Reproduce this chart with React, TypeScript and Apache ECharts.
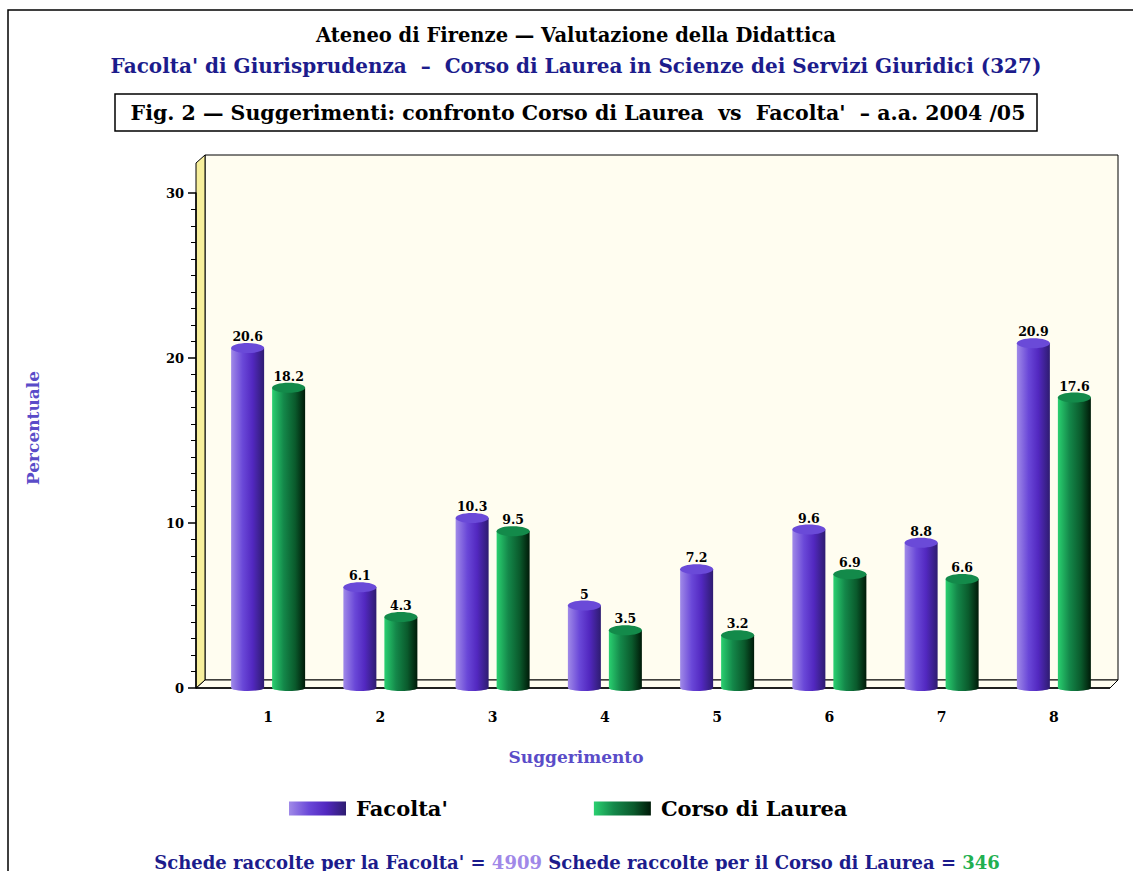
import React, { useEffect, useRef } from "react";
import * as echarts from "echarts";

const categories = ["1", "2", "3", "4", "5", "6", "7", "8"];
const facoltaValues = [20.6, 6.1, 10.3, 5, 7.2, 9.6, 8.8, 20.9];
const corsoValues = [18.2, 4.3, 9.5, 3.5, 3.2, 6.9, 6.6, 17.6];
const seriesNames = ["Facolta'", "Corso di Laurea"];
const yMin = 0;
const yMax = 30;
const yInterval = 10;
const schedeFacolta = 4909;
const schedeCorso = 346;

const FONT = "'DejaVu Serif', serif";

const purpleGrad = {
  type: "linear", x: 0, y: 0, x2: 1, y2: 0,
  colorStops: [
    { offset: 0, color: "#a08ae8" },
    { offset: 0.35, color: "#6a48d8" },
    { offset: 0.65, color: "#5228c0" },
    { offset: 1, color: "#2e1c70" },
  ],
};
const greenGrad = {
  type: "linear", x: 0, y: 0, x2: 1, y2: 0,
  colorStops: [
    { offset: 0, color: "#2ad070" },
    { offset: 0.35, color: "#14884a" },
    { offset: 0.7, color: "#0a5a2c" },
    { offset: 1, color: "#001a08" },
  ],
};

function makeRender(offset: number, grad: any, topColor: string) {
  return (params: any, api: any) => {
    const i = api.value(0);
    const v = api.value(1);
    const top = api.coord([i, v]);
    const base = api.coord([i, 0]);
    const w = 33;
    const ry = 5;
    const cx = top[0] + offset;
    return {
      type: "group",
      children: [
        { type: "ellipse", shape: { cx, cy: base[1], rx: w / 2, ry: 3 }, style: { fill: grad } },
        { type: "rect", shape: { x: cx - w / 2, y: top[1], width: w, height: base[1] - top[1] }, style: { fill: grad } },
        { type: "ellipse", shape: { cx, cy: top[1], rx: w / 2, ry }, style: { fill: topColor } },
        {
          type: "text",
          style: {
            text: String(v), x: cx, y: top[1] - ry,
            align: "center", verticalAlign: "bottom",
            font: `bold 12.5px ${FONT}`, fill: "#000",
          },
        },
      ],
    };
  };
}

export default function App() {
  const ref = useRef<HTMLDivElement>(null);
  useEffect(() => {
    const chart = echarts.init(ref.current!, null, { renderer: "svg" });
    chart.setOption({
      animation: false,
      backgroundColor: "#ffffff",
      grid: { left: 212, right: 23, top: 193, bottom: 183 },
      xAxis: {
        type: "category",
        data: categories,
        axisLine: { show: false },
        axisTick: { show: false },
        axisLabel: { margin: 22, color: "#000", fontFamily: FONT, fontWeight: "bold", fontSize: 14 },
        splitLine: { show: false },
      },
      yAxis: {
        type: "value",
        min: yMin, max: yMax, interval: yInterval,
        offset: 16,
        axisLine: { show: true, lineStyle: { color: "#000", width: 1.5 } },
        axisTick: { show: true, inside: false, length: 8, lineStyle: { color: "#000", width: 1.5 } },
        minorTick: { show: true, splitNumber: 10, length: 5, lineStyle: { color: "#000", width: 1 } },
        axisLabel: { margin: 12, color: "#000", fontFamily: FONT, fontWeight: "bold", fontSize: 13 },
        splitLine: { show: false },
      },
      legend: {
        left: 284, top: 793,
        icon: "rect",
        itemWidth: 57, itemHeight: 14,
        itemGap: 146,
        data: seriesNames,
        textStyle: { color: "#000", fontFamily: FONT, fontWeight: "bold", fontSize: 21, padding: [0, 0, 0, 5] },
      },
      series: [
        {
          type: "custom", name: seriesNames[0],
          renderItem: makeRender(-20.5, purpleGrad, "#6a4ad8"),
          itemStyle: { color: purpleGrad },
          encode: { x: 0, y: 1 },
          data: facoltaValues.map((v, i) => [i, v]),
          z: 5,
        },
        {
          type: "custom", name: seriesNames[1],
          renderItem: makeRender(20.5, greenGrad, "#138a4a"),
          itemStyle: { color: greenGrad },
          encode: { x: 0, y: 1 },
          data: corsoValues.map((v, i) => [i, v]),
          z: 5,
        },
      ],
      graphic: [
        { type: "rect", z: -20, shape: { x: 8, y: 10, width: 1140, height: 900 }, style: { fill: "none", stroke: "#000", lineWidth: 1.5 } },
        { type: "rect", z: -10, shape: { x: 205, y: 155, width: 913, height: 525 }, style: { fill: "#fffdf0", stroke: "#000", lineWidth: 1 } },
        { type: "polygon", z: -9, shape: { points: [[196, 688], [205, 680], [1118, 680], [1110, 688]] }, style: { fill: "#fffdf0", stroke: "#000", lineWidth: 1 } },
        { type: "polygon", z: -8, shape: { points: [[196, 688], [196, 163], [205, 155], [205, 680]] }, style: { fill: "#f7ef9c", stroke: "#000", lineWidth: 1 } },
        { type: "line", z: 1, shape: { x1: 196, y1: 688, x2: 1110, y2: 688 }, style: { stroke: "#000", lineWidth: 1.5 } },
        {
          type: "text", x: 576, y: 35,
          style: { text: "Ateneo di Firenze — Valutazione della Didattica", align: "center", verticalAlign: "middle", font: `bold 19.5px ${FONT}`, fill: "#000" },
        },
        {
          type: "text", x: 576, y: 66,
          style: { text: "Facolta' di Giurisprudenza  –  Corso di Laurea in Scienze dei Servizi Giuridici (327)", align: "center", verticalAlign: "middle", font: `bold 20px ${FONT}`, fill: "#1c1c8c" },
        },
        { type: "rect", shape: { x: 115, y: 94, width: 922, height: 37 }, style: { fill: "none", stroke: "#000", lineWidth: 1.5 } },
        {
          type: "text", x: 578, y: 113,
          style: { text: "Fig. 2 — Suggerimenti: confronto Corso di Laurea  vs  Facolta'  – a.a. 2004 /05", align: "center", verticalAlign: "middle", font: `bold 20.5px ${FONT}`, fill: "#000" },
        },
        {
          type: "text", x: 576, y: 757,
          style: { text: "Suggerimento", align: "center", verticalAlign: "middle", font: `bold 17px ${FONT}`, fill: "#5a4cc8" },
        },
        {
          type: "text", x: 33, y: 428, rotation: Math.PI / 2,
          style: { text: "Percentuale", align: "center", verticalAlign: "middle", font: `bold 17px ${FONT}`, fill: "#5a4cc8" },
        },
        {
          type: "text", x: 577, y: 862,
          style: {
            text: `{a|Schede raccolte per la Facolta' = }{b|${schedeFacolta}}{a| Schede raccolte per il Corso di Laurea = }{c|${schedeCorso}}`,
            align: "center", verticalAlign: "middle",
            rich: {
              a: { font: `bold 18px ${FONT}`, fill: "#1c1c8c" },
              b: { font: `bold 18px ${FONT}`, fill: "#a088e8" },
              c: { font: `bold 18px ${FONT}`, fill: "#22b050" },
            },
          },
        },
      ],
    });
    return () => chart.dispose();
  }, []);
  return (
    <div
      ref={ref}
      style={{ position: "fixed", left: 0, top: 0, width: 1133, height: 871 }}
    />
  );
}
